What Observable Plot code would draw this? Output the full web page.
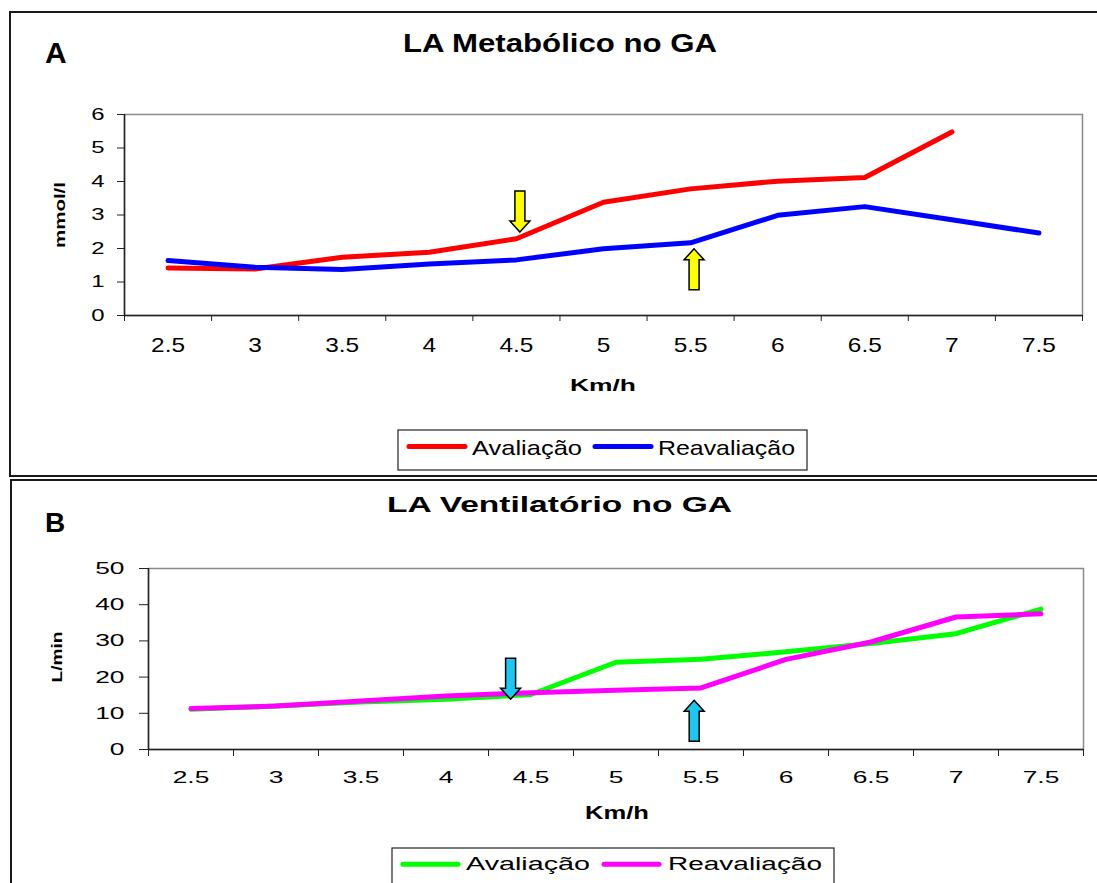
<!DOCTYPE html>
<html>
<head>
<meta charset="utf-8">
<script src="https://cdn.jsdelivr.net/npm/d3@7"></script>
<script src="https://cdn.jsdelivr.net/npm/@observablehq/plot@0.6"></script>
<style>
  html, body { margin: 0; padding: 0; background: #fff; }
  #page { position: relative; width: 1097px; height: 883px; overflow: hidden; background: #fff;
          font-family: "Liberation Sans", Arial, Helvetica, sans-serif; }
  .chart { position: absolute; left: 0; }
  #plotA { top: 95px; }
  #plotB { top: 550px; }
  .panel { position: absolute; border: 2px solid #1a1a1a; box-sizing: border-box; pointer-events: none; }
  #overlay { position: absolute; left: 0; top: 0; }
</style>
</head>
<body>
<div id="page">
  <div id="plotA" class="chart"></div>
  <div id="plotB" class="chart"></div>
  <div class="panel" style="left:9px;top:11px;width:1100px;height:466px;"></div>
  <div class="panel" style="left:10px;top:479px;width:1100px;height:420px;"></div>
</div>
<script>
// Treadmill speeds (km/h) — one category per stage
const speeds = [2.5, 3, 3.5, 4, 4.5, 5, 5.5, 6, 6.5, 7, 7.5];

// Blood lactate (mmol/l) per stage
const lactateAvaliacao   = [1.42, 1.39, 1.74, 1.89, 2.29, 3.38, 3.78, 4.01, 4.12, 5.48, null];
const lactateReavaliacao = [1.64, 1.44, 1.37, 1.54, 1.66, 1.99, 2.17, 2.99, 3.25, 2.86, 2.46];

// Ventilation (L/min) per stage
const ventAvaliacao   = [11.1, 12.0, 13.1, 13.9, 15.2, 24.1, 24.9, 27.0, 29.3, 32.0, 38.8];
const ventReavaliacao = [11.3, 12.0, 13.4, 14.8, 15.7, 16.4, 17.0, 24.9, 29.7, 36.6, 37.5];

const lactateTicks = [0, 1, 2, 3, 4, 5, 6];
const ventTicks = [0, 10, 20, 30, 40, 50];

const series = ["Avaliação", "Reavaliação"];
const lactateColors = ["#ff0000", "#0000ff"];
const ventColors = ["#00ff00", "#ff00ff"];

// Threshold markers: arrow tip position (speed, value) and pointing direction
const lactateThresholds = [
  {speed: 4.52, value: 2.49, dir: "down"},
  {speed: 5.52, value: 1.99, dir: "up"}
];
const ventThresholds = [
  {speed: 4.38, value: 13.9, dir: "down"},
  {speed: 5.46, value: 13.6, dir: "up"}
];

const FONT = '"Liberation Sans", Arial, Helvetica, sans-serif';

// Category boundaries: each speed sits in the middle of its slot
const halfStep = 0.25;
const bounds = speeds.map(s => s - halfStep).concat([speeds[speeds.length - 1] + halfStep]);
const xDomain = [bounds[0], bounds[bounds.length - 1]];

function rows(a, b) {
  return speeds.flatMap((s, i) => [
    {speed: s, series: series[0], value: a[i]},
    {speed: s, series: series[1], value: b[i]}
  ]);
}

// Block arrow, tip at the origin, pointing down
const arrowSymbol = {
  draw(ctx) {
    ctx.moveTo(0, 0);
    ctx.lineTo(10, -11);
    ctx.lineTo(5, -11);
    ctx.lineTo(5, -41);
    ctx.lineTo(-5, -41);
    ctx.lineTo(-5, -11);
    ctx.lineTo(-10, -11);
    ctx.closePath();
  }
};

function stretchText(svg, selector, factor) {
  svg.querySelectorAll(selector).forEach(t => {
    const w = t.getComputedTextLength();
    if (w > 0) {
      t.setAttribute("textLength", (w * factor).toFixed(1));
      t.setAttribute("lengthAdjust", "spacingAndGlyphs");
    }
  });
}

function panel({data, yDomain, yTicks, colors, thresholds, arrowFill, height, margins,
                xFont, yFont, ySize, yPad, xSize, xPad}) {
  return Plot.plot({
    width: 1097,
    height,
    ...margins,
    style: {background: "transparent", fontFamily: FONT, color: "#000", overflow: "visible"},
    x: {domain: xDomain, label: null},
    y: {domain: yDomain, label: null},
    color: {domain: series, range: colors},
    marks: [
      Plot.frame({stroke: "#8a8a8a", strokeWidth: 1.5}),
      Plot.axisY({ticks: yTicks, tickSize: ySize, tickPadding: yPad, fontSize: yFont,
                  stroke: "#222", label: null, tickFormat: d => String(d)}),
      Plot.axisX({ticks: bounds, tickSize: xSize, tickFormat: () => "", stroke: "#222", label: null}),
      Plot.axisX({ticks: speeds, tickSize: 0, tickPadding: xPad, fontSize: xFont,
                  label: null, tickFormat: d => String(d)}),
      Plot.ruleX([xDomain[0]], {stroke: "#222", strokeWidth: 1.5}),
      Plot.ruleY([yDomain[0]], {stroke: "#222", strokeWidth: 1.5}),
      Plot.line(data, {x: "speed", y: "value", z: "series", stroke: "series",
                       strokeWidth: 5, strokeLinecap: "round", strokeLinejoin: "round"}),
      Plot.dot(thresholds, {x: "speed", y: "value", symbol: arrowSymbol,
                            rotate: d => d.dir === "up" ? 180 : 0,
                            fill: arrowFill, stroke: "#000", strokeWidth: 1.5})
    ]
  });
}

const chartA = panel({
  data: rows(lactateAvaliacao, lactateReavaliacao),
  yDomain: [0, 6], yTicks: lactateTicks, colors: lactateColors,
  thresholds: lactateThresholds, arrowFill: "#ffff00",
  height: 270,
  margins: {marginTop: 19, marginBottom: 50, marginLeft: 124, marginRight: 15},
  xFont: 21, yFont: 17, ySize: 7, yPad: 13, xSize: 6, xPad: 22
});
document.getElementById("plotA").appendChild(chartA);
stretchText(chartA, 'g[aria-label="x-axis tick label"] text', 1.16);
stretchText(chartA, 'g[aria-label="y-axis tick label"] text', 1.4);

const chartB = panel({
  data: rows(ventAvaliacao, ventReavaliacao),
  yDomain: [0, 50], yTicks: ventTicks, colors: ventColors,
  thresholds: ventThresholds, arrowFill: "#1ec6f0",
  height: 250,
  margins: {marginTop: 18, marginBottom: 51, marginLeft: 148, marginRight: 14},
  xFont: 17, yFont: 17, ySize: 9, yPad: 15, xSize: 7, xPad: 21
});
document.getElementById("plotB").appendChild(chartB);
stretchText(chartB, 'g[aria-label="x-axis tick label"] text', 1.55);
stretchText(chartB, 'g[aria-label="y-axis tick label"] text', 1.55);

// Titles, axis titles, panel letters and legends
const svg = d3.select("#page").append("svg")
  .attr("id", "overlay").attr("width", 1097).attr("height", 883)
  .style("font-family", FONT);

function txt(s, x, y, {size, weight = "normal", length, anchor = "start", rotate = 0}) {
  const t = svg.append("text")
    .attr("transform", `translate(${x},${y}) rotate(${rotate})`)
    .attr("font-size", size).attr("font-weight", weight)
    .attr("text-anchor", anchor).attr("fill", "#000").text(s);
  if (length) t.attr("textLength", length).attr("lengthAdjust", "spacingAndGlyphs");
  return t;
}

// Panel A
txt("A", 45, 63, {size: 30, weight: "bold"});
txt("LA Metabólico no GA", 403, 52, {size: 25, weight: "bold", length: 314});
txt("mmol/l", 65, 215, {size: 15, weight: "bold", length: 66, anchor: "middle", rotate: -90});
txt("Km/h", 603, 391, {size: 17, weight: "bold", length: 66, anchor: "middle"});

// Panel B
txt("B", 45, 532, {size: 28, weight: "bold"});
txt("LA Ventilatório no GA", 387, 512, {size: 22, weight: "bold", length: 345});
txt("L/min", 62, 657, {size: 15, weight: "bold", length: 51, anchor: "middle", rotate: -90});
txt("Km/h", 617, 819, {size: 18, weight: "bold", length: 64, anchor: "middle"});

function legend({box, items, y, size, textY}) {
  svg.append("rect").attr("x", box[0]).attr("y", box[1]).attr("width", box[2]).attr("height", box[3])
    .attr("fill", "#fff").attr("stroke", "#222").attr("stroke-width", 1.2);
  items.forEach(it => {
    svg.append("line").attr("x1", it.x1).attr("x2", it.x2).attr("y1", y).attr("y2", y)
      .attr("stroke", it.color).attr("stroke-width", 5).attr("stroke-linecap", "round");
    txt(it.label, it.tx, textY, {size, length: it.len});
  });
}

legend({
  box: [398, 430, 409, 40], y: 446.5, size: 21, textY: 455,
  items: [
    {label: series[0], color: lactateColors[0], x1: 409, x2: 465, tx: 472, len: 110},
    {label: series[1], color: lactateColors[1], x1: 595, x2: 651, tx: 658, len: 137}
  ]
});
legend({
  box: [392, 848, 442, 50], y: 864.3, size: 18, textY: 870,
  items: [
    {label: series[0], color: ventColors[0], x1: 403, x2: 458, tx: 466, len: 124},
    {label: series[1], color: ventColors[1], x1: 604, x2: 659, tx: 668, len: 154}
  ]
});
</script>
</body>
</html>
